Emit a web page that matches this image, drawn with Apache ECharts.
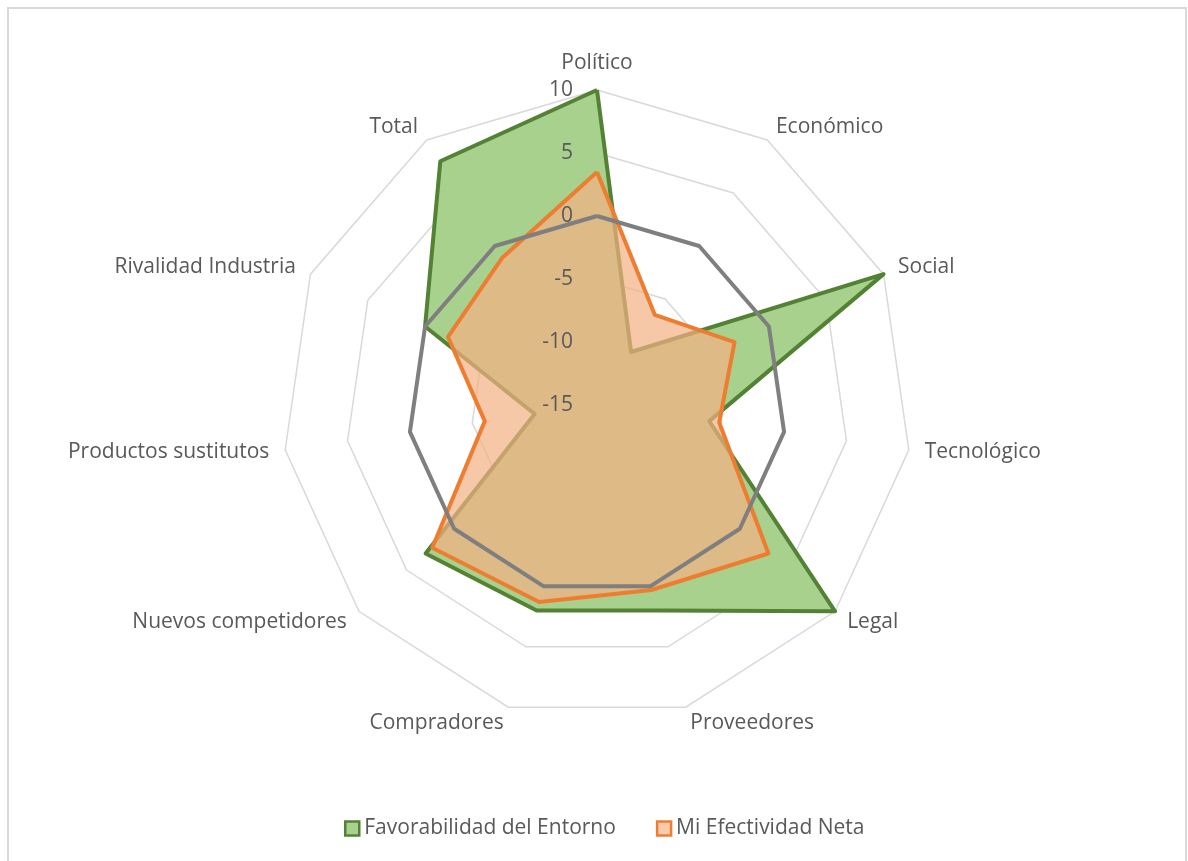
<!DOCTYPE html>
<html>
<head>
<meta charset="utf-8">
<script src="https://cdn.jsdelivr.net/npm/echarts@6/dist/echarts.min.js"></script>
<style>
  html, body { margin: 0; padding: 0; background: #ffffff; }
  #frame { position: absolute; left: 7px; top: 7px; width: 1180px; height: 900px; border: 2px solid #d9d9d9; box-sizing: border-box; }
  #chart { position: absolute; left: 0; top: 0; width: 1188px; height: 861px; }
</style>
</head>
<body>
<div id="frame"></div>
<div id="chart"></div>
<script>
// ---- data (original clockwise order, starting at top) ----
const categories = ['Político', 'Económico', 'Social', 'Tecnológico', 'Legal', 'Proveedores',
  'Compradores', 'Nuevos competidores', 'Productos sustitutos', 'Rivalidad Industria', 'Total'];
const favorabilidad = [10, -10, 10, -6, 10, 2, 2, 3, -10, 0, 8];
const efectividad = [3.5, -6.5, -3, -5.2, 3, 0.3, 1.3, 2.3, -6, -2, -1.1];
const referencia = [0, 0, 0, 0, 0, 0, 0, 0, 0, 0, 0];
const seriesNames = ['Favorabilidad del Entorno', 'Mi Efectividad Neta', 'Referencia'];
const axisMin = -15, axisMax = 10, axisSplits = 5;

// ECharts places radar indicators counter-clockwise; reorder so they appear clockwise.
const order = [0].concat(categories.map((_, i) => i).slice(1).reverse());
const reorder = arr => order.map(i => arr[i]);

const FONT = '"Open Sans", "Noto Sans", sans-serif';
const TXT = '#595959';
const FS = 21;

const indicatorMain = reorder(categories).map(n => ({ name: n, min: axisMin, max: axisMax }));
const indicatorLabels = reorder(categories).map((n, i) => ({
  name: n, min: axisMin, max: axisMax,
  axisLabel: { show: i === 0, color: TXT, fontSize: FS, fontFamily: FONT, margin: 24 }
}));

function areaSeries(name, values, fill, opacity) {
  return {
    type: 'radar', radarIndex: 0, symbol: 'none', name: name,
    data: [{ name: name, value: reorder(values),
      lineStyle: { width: 0, opacity: 0 },
      itemStyle: { color: fill },
      areaStyle: { color: fill, opacity: opacity } }]
  };
}
function lineSeries(name, values, color) {
  return {
    type: 'radar', radarIndex: 0, symbol: 'none', name: name,
    data: [{ name: name, value: reorder(values),
      lineStyle: { color: color, width: 4 },
      itemStyle: { color: color } }]
  };
}

const chart = echarts.init(document.getElementById('chart'), null, { renderer: 'canvas' });
chart.setOption({
  animation: false,
  backgroundColor: 'transparent',
  radar: [
    {
      center: [597, 405],
      radius: 315,
      startAngle: 90,
      splitNumber: axisSplits,
      shape: 'polygon',
      nameGap: 16,
      axisName: { color: TXT, fontSize: FS, fontFamily: FONT },
      axisLine: { show: false },
      axisTick: { show: false },
      axisLabel: { show: false },
      splitArea: { show: false },
      splitLine: { lineStyle: { color: '#d9d9d9', width: 1.5 } },
      indicator: indicatorMain
    },
    {
      center: [597, 405],
      radius: 315,
      startAngle: 90,
      splitNumber: axisSplits,
      shape: 'polygon',
      z: 10,
      axisName: { show: false },
      axisLine: { show: false },
      axisTick: { show: false },
      axisLabel: { show: false },
      splitArea: { show: false },
      splitLine: { show: false },
      indicator: indicatorLabels
    }
  ],
  legend: {
    data: [
      { name: seriesNames[0], icon: 'rect', itemStyle: { color: '#a9d18e', borderColor: '#548235', borderWidth: 2.5 } },
      { name: seriesNames[1], icon: 'rect', itemStyle: { color: '#f8cbad', borderColor: '#ed7d31', borderWidth: 2.5 } }
    ],
    left: 339,
    top: 813,
    itemWidth: 14,
    itemHeight: 14,
    itemGap: 40,
    textStyle: { color: TXT, fontSize: FS, fontFamily: FONT }
  },
  series: [
    areaSeries(seriesNames[0], favorabilidad, '#a9d18e', 1),
    lineSeries(seriesNames[0], favorabilidad, '#548235'),
    areaSeries(seriesNames[1], efectividad, '#f4b183', 0.7),
    lineSeries(seriesNames[1], efectividad, '#ed7d31'),
    lineSeries(seriesNames[2], referencia, '#7f7f7f')
  ]
});
</script>
</body>
</html>
